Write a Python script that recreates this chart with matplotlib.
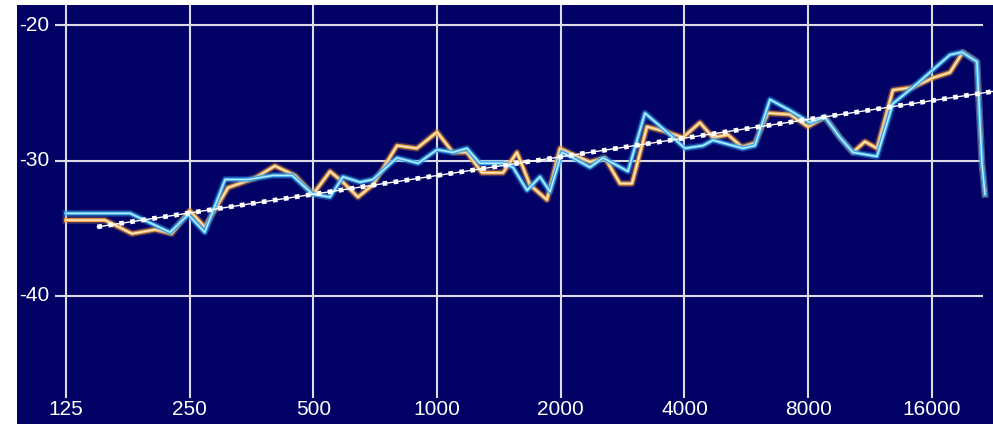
import matplotlib
matplotlib.use("Agg")
import matplotlib.pyplot as plt
import numpy as np

# measured response, two channels (Hz, dB)
blue_f = [125, 155.5, 179, 224, 248, 272, 305, 347, 399, 444, 499, 549, 590, 649, 698,
          799, 899, 1000, 1093, 1182, 1272, 1447, 1530, 1655, 1780, 1883, 2014, 2141,
          2356, 2534, 2915, 3206, 3627, 4011, 4437, 4692, 5551, 5938, 6459, 7224, 8081,
          8791, 9560, 10283, 11764, 12864, 14390, 16100, 17710, 18940, 20600, 21190, 21550]
blue_db = [-33.9, -33.9, -33.9, -35.3, -34.0, -35.3, -31.4, -31.4, -31.1, -31.1, -32.5,
           -32.7, -31.2, -31.6, -31.4, -29.8, -30.2, -29.2, -29.4, -29.1, -30.2, -30.2,
           -30.5, -32.2, -31.2, -32.3, -29.4, -29.8, -30.5, -29.8, -30.8, -26.5, -27.9,
           -29.1, -28.9, -28.5, -29.1, -28.9, -25.5, -26.3, -27.2, -26.8, -28.3, -29.4,
           -29.7, -25.8, -24.6, -23.3, -22.2, -22.0, -22.7, -30.2, -32.5]

orange_f = [125, 155.5, 181, 206, 226, 250, 272, 310, 360, 403, 451, 499, 549, 590, 642,
            698, 799, 893, 1000, 1093, 1182, 1286, 1447, 1565, 1683, 1851, 1991, 2190,
            2356, 2562, 2787, 2981, 3242, 3627, 3966, 4363, 4692, 5105, 5520, 5938, 6386,
            7224, 7991, 8791, 9560, 10283, 10996, 11764, 12864, 14390, 16100, 17710,
            19044, 20600, 21190, 21550]
orange_db = [-34.4, -34.4, -35.4, -35.1, -35.4, -33.7, -34.9, -32.0, -31.3, -30.4, -31.1,
             -32.5, -30.8, -31.6, -32.7, -31.8, -28.9, -29.1, -27.9, -29.4, -29.4, -30.9,
             -30.9, -29.4, -31.8, -32.9, -29.1, -29.7, -30.1, -29.8, -31.7, -31.7, -27.5,
             -27.9, -28.3, -27.2, -28.3, -28.1, -29.0, -28.7, -26.5, -26.6, -27.5, -26.8,
             -28.3, -29.4, -28.6, -29.1, -24.8, -24.6, -23.9, -23.5, -22.0, -22.7, -30.2,
             -32.5]

trend_f = [149, 22540]
trend_db = [-34.9, -24.9]

xticks = [125, 250, 500, 1000, 2000, 4000, 8000, 16000]
yticks = [-20, -30, -40]

navy = "#020266"
grid_c = "#dcdce6"
font = ["Liberation Sans", "DejaVu Sans"]

fig = plt.figure(figsize=(9.93, 4.24), dpi=100)
ax = fig.add_axes([17 / 993, 0, 976 / 993, 419 / 424])
ax.set_facecolor(navy)
ax.set_xscale("log")
ax.set_xlim(95.0, 22540)
ax.set_ylim(-49.45, -18.52)
for s in ax.spines.values():
    s.set_visible(False)
ax.set_xticks([])
ax.set_yticks([])
ax.minorticks_off()

# grid
ax.hlines(yticks, 117.5, 21300, color=grid_c, lw=1.5, zorder=1)
ax.vlines(xticks, -47.53, -18.52, color=grid_c, lw=1.5, zorder=1)

for t in yticks:
    ax.text(114, t, str(t), color="white", ha="right", va="center",
            fontsize=15, family=font)
for t in xticks:
    ax.text(t, -48.4, str(t), color="white", ha="center", va="center",
            fontsize=15, family=font)

# glowing curves
ax.plot(orange_f, orange_db, color="#f0a040", lw=5, alpha=0.3, zorder=2)
ax.plot(orange_f, orange_db, color="#eba040", lw=2.8, zorder=2)
ax.plot(orange_f, orange_db, color="#ffe8c4", lw=1.1, zorder=2)
ax.plot(blue_f, blue_db, color="#3aa4f0", lw=5, alpha=0.3, zorder=3)
ax.plot(blue_f, blue_db, color="#36a2ea", lw=2.8, zorder=3)
ax.plot(blue_f, blue_db, color="#b8ecff", lw=1.1, zorder=3)

# trend
ax.plot(trend_f, trend_db, color="white", lw=1.0, zorder=4)
ax.plot(trend_f, trend_db, color="white", lw=3.4, linestyle=(0, (1, 1.35)),
        dash_capstyle="butt", zorder=4)

fig.savefig("out.png", dpi=100)
